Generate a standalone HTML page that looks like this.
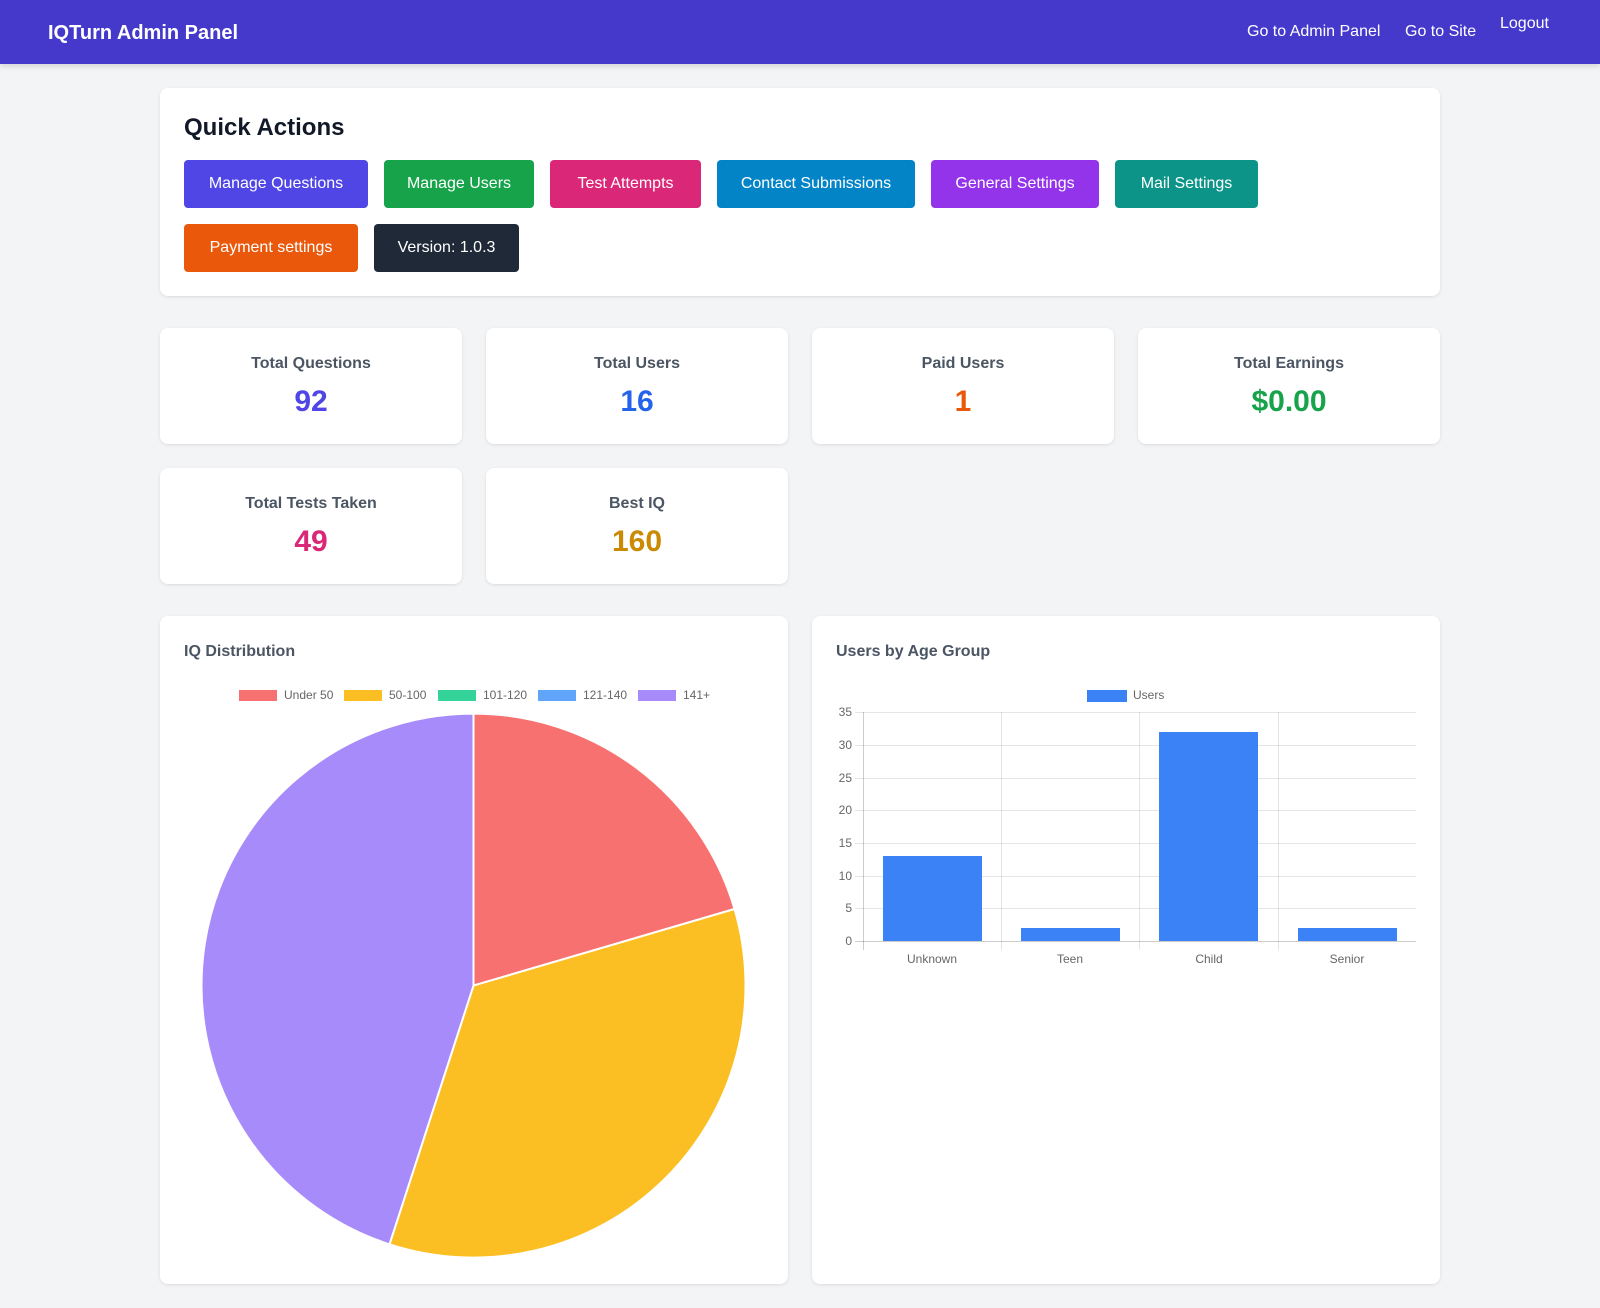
<!DOCTYPE html>
<html><head><meta charset="utf-8">
<style>
*{box-sizing:border-box;margin:0;padding:0}
body{width:1600px;height:1308px;background:#f3f4f6;font-family:"Liberation Sans",sans-serif;position:relative;overflow:hidden}
.nav{position:absolute;left:0;top:0;width:1600px;height:64px;background:#4539cc;box-shadow:0 2px 6px rgba(0,0,0,.15)}
.nav .t{position:absolute;left:48px;top:22px;color:#fff;font-weight:bold;font-size:20px}
.nav a{position:absolute;color:#fff;font-size:16px;text-decoration:none}
.card{position:absolute;background:#fff;border-radius:8px;box-shadow:0 1px 3px rgba(0,0,0,.1)}
.btn{position:absolute;height:48px;line-height:48px;color:#fff;font-size:16px;text-align:center;border-radius:4px}
.lbl{position:absolute;left:0;right:0;top:27px;text-align:center;color:#4b5563;font-weight:bold;font-size:16px}
.val{position:absolute;left:0;right:0;top:57px;text-align:center;font-weight:bold;font-size:30px}
.ct{position:absolute;left:24px;top:27px;color:#4b5563;font-weight:bold;font-size:16px}
</style></head><body>
<div class="nav"><div class="t">IQTurn Admin Panel</div>
<a style="left:1247px;top:23px">Go to Admin Panel</a>
<a style="left:1405px;top:23px">Go to Site</a>
<a style="left:1500px;top:15px">Logout</a></div>

<div class="card" style="left:160px;top:88px;width:1280px;height:208px">
<div style="position:absolute;left:24px;top:26px;font-size:24px;font-weight:bold;color:#111827">Quick Actions</div>
</div>
<div class="btn" style="left:184px;top:160px;width:184px;background:#4f46e5">Manage Questions</div>
<div class="btn" style="left:384px;top:160px;width:150px;background:#16a34a">Manage Users</div>
<div class="btn" style="left:550px;top:160px;width:151px;background:#db2777">Test Attempts</div>
<div class="btn" style="left:717px;top:160px;width:198px;background:#0284c7">Contact Submissions</div>
<div class="btn" style="left:931px;top:160px;width:168px;background:#9333ea">General Settings</div>
<div class="btn" style="left:1115px;top:160px;width:143px;background:#0d9488">Mail Settings</div>
<div class="btn" style="left:184px;top:224px;width:174px;background:#ea580c">Payment settings</div>
<div class="btn" style="left:374px;top:224px;width:145px;background:#1f2937">Version: 1.0.3</div>

<div class="card" style="left:160px;top:328px;width:302px;height:116px"><div class="lbl">Total Questions</div><div class="val" style="color:#4f46e5">92</div></div>
<div class="card" style="left:486px;top:328px;width:302px;height:116px"><div class="lbl">Total Users</div><div class="val" style="color:#2563eb">16</div></div>
<div class="card" style="left:812px;top:328px;width:302px;height:116px"><div class="lbl">Paid Users</div><div class="val" style="color:#ea580c">1</div></div>
<div class="card" style="left:1138px;top:328px;width:302px;height:116px"><div class="lbl">Total Earnings</div><div class="val" style="color:#16a34a">$0.00</div></div>
<div class="card" style="left:160px;top:468px;width:302px;height:116px"><div class="lbl">Total Tests Taken</div><div class="val" style="color:#db2777">49</div></div>
<div class="card" style="left:486px;top:468px;width:302px;height:116px"><div class="lbl">Best IQ</div><div class="val" style="color:#ca8a04">160</div></div>

<div class="card" style="left:160px;top:616px;width:628px;height:668px"><div class="ct">IQ Distribution</div></div>
<div class="card" style="left:812px;top:616px;width:628px;height:668px"><div class="ct">Users by Age Group</div></div>

<svg width="1600" height="1308" style="position:absolute;left:0;top:0" font-family="Liberation Sans, sans-serif" font-size="12" fill="#666">
<rect x="239" y="690" width="38" height="11" fill="#f87171"/><text x="284" y="699">Under 50</text>
<rect x="344" y="690" width="38" height="11" fill="#fbbf24"/><text x="389" y="699">50-100</text>
<rect x="438" y="690" width="38" height="11" fill="#34d399"/><text x="483" y="699">101-120</text>
<rect x="538" y="690" width="38" height="11" fill="#60a5fa"/><text x="583" y="699">121-140</text>
<rect x="638" y="690" width="38" height="11" fill="#a78bfa"/><text x="683" y="699">141+</text>
<g stroke="#fff" stroke-width="2">
<path d="M473.5 985.6 L473.5 713.6 A272 272 0 0 1 734.5 909 Z" fill="#f87171"/>
<path d="M473.5 985.6 L734.5 909 A272 272 0 0 1 389.5 1244.3 Z" fill="#fbbf24"/>
<path d="M473.5 985.6 L389.5 1244.3 A272 272 0 0 1 473.5 713.6 Z" fill="#a78bfa"/>
</g>
<rect x="1087" y="690" width="40" height="12" fill="#3b82f6"/><text x="1133" y="699">Users</text>
<g stroke="rgba(0,0,0,0.1)" stroke-width="1">
<line x1="855" x2="1416" y1="712.5" y2="712.5"/>
<line x1="855" x2="1416" y1="745.5" y2="745.5"/>
<line x1="855" x2="1416" y1="778.5" y2="778.5"/>
<line x1="855" x2="1416" y1="810.5" y2="810.5"/>
<line x1="855" x2="1416" y1="843.5" y2="843.5"/>
<line x1="855" x2="1416" y1="876.5" y2="876.5"/>
<line x1="855" x2="1416" y1="908.5" y2="908.5"/>
<line x1="855" x2="1416" y1="941.5" y2="941.5" stroke="rgba(0,0,0,0.2)"/>
<line x1="863.5" x2="863.5" y1="712" y2="950" stroke="rgba(0,0,0,0.2)"/>
<line x1="1001.5" x2="1001.5" y1="712" y2="950"/>
<line x1="1139.5" x2="1139.5" y1="712" y2="950"/>
<line x1="1278.5" x2="1278.5" y1="712" y2="950"/>
</g>
<g fill="#3b82f6">
<rect x="883" y="856" width="99" height="85"/>
<rect x="1021" y="928" width="99" height="13"/>
<rect x="1159" y="732" width="99" height="209"/>
<rect x="1298" y="928" width="99" height="13"/>
</g>
<g text-anchor="end">
<text x="852" y="716">35</text><text x="852" y="749">30</text><text x="852" y="782">25</text>
<text x="852" y="814">20</text><text x="852" y="847">15</text><text x="852" y="880">10</text>
<text x="852" y="912">5</text><text x="852" y="945">0</text>
</g>
<g text-anchor="middle">
<text x="932" y="963">Unknown</text><text x="1070" y="963">Teen</text>
<text x="1209" y="963">Child</text><text x="1347" y="963">Senior</text>
</g>
</svg>
</body></html>
